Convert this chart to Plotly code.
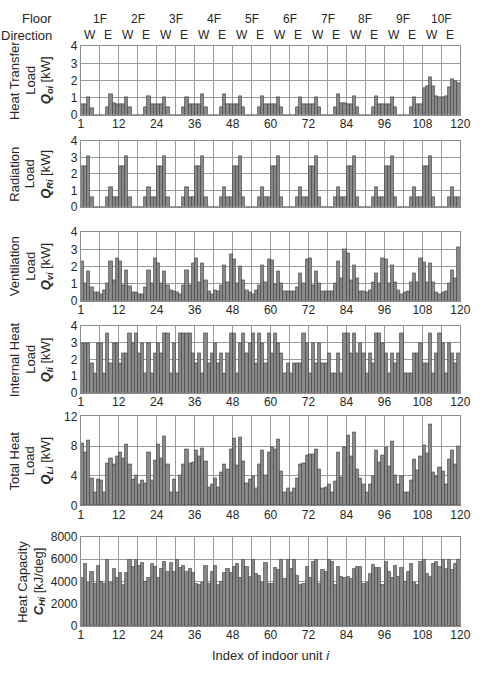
import plotly.graph_objects as go

units = list(range(1, 121))

# Heat transfer load Q_oi [kW] (floors 1F..10F, 12 units per floor)
q_oi = [
    0.6, 0.6, 1.0, 0.4, 0, 0, 0, 0, 0.45, 1.2, 0.7, 0.6,
    0.6, 0.6, 1.0, 0.45, 0, 0, 0, 0, 0.45, 1.1, 0.6, 0.6,
    0.6, 0.6, 1.0, 0.45, 0, 0, 0, 0, 0.45, 1.0, 0.6, 0.6,
    0.6, 0.6, 1.2, 0.45, 0, 0, 0, 0, 0.45, 1.2, 0.6, 0.6,
    0.6, 0.6, 1.1, 0.45, 0, 0, 0, 0, 0.45, 1.1, 0.6, 0.6,
    0.6, 0.6, 1.0, 0.45, 0, 0, 0, 0, 0.45, 1.0, 0.6, 0.6,
    0.6, 0.6, 1.0, 0.45, 0, 0, 0, 0, 0.45, 1.2, 0.7, 0.7,
    0.6, 0.6, 1.1, 0.45, 0, 0, 0, 0, 0.45, 1.1, 0.6, 0.6,
    0.6, 0.6, 1.0, 0.45, 0, 0, 0, 0, 0.45, 1.0, 0.6, 0.6,
    1.55, 1.65, 2.2, 1.65, 1.1, 1.05, 1.05, 1.1, 1.6, 2.05, 1.95, 1.85,
]

# Radiation load Q_Ri [kW]
q_ri = [
    2.5, 2.5, 3.1, 0.6, 0, 0, 0, 0, 0.6, 1.2, 0.6, 0.6,
    2.5, 2.5, 3.1, 0.6, 0, 0, 0, 0, 0.6, 1.2, 0.6, 0.6,
    2.5, 2.5, 3.1, 0.6, 0, 0, 0, 0, 0.6, 1.2, 0.6, 0.6,
    2.5, 2.5, 3.1, 0.6, 0, 0, 0, 0, 0.6, 1.2, 0.6, 0.6,
    2.5, 2.5, 3.1, 0.6, 0, 0, 0, 0, 0.6, 1.2, 0.6, 0.6,
    2.5, 2.5, 3.1, 0.6, 0, 0, 0, 0, 0.6, 1.2, 0.6, 0.6,
    2.5, 2.5, 3.1, 0.6, 0, 0, 0, 0, 0.6, 1.2, 0.6, 0.6,
    2.5, 2.5, 3.1, 0.6, 0, 0, 0, 0, 0.6, 1.2, 0.6, 0.6,
    2.5, 2.5, 3.1, 0.6, 0, 0, 0, 0, 0.6, 1.2, 0.6, 0.6,
    2.5, 2.5, 3.1, 0.6, 0, 0, 0, 0, 0.6, 1.2, 0.6, 0.6,
]

# Ventilation load Q_vi [kW]
q_vi = [
    2.3, 1.0, 1.7, 0.8, 0.5, 0.5, 0.4, 0.6, 1.0, 2.3, 1.2, 2.5,
    2.3, 0.9, 1.8, 0.85, 0.5, 0.5, 0.4, 0.4, 0.8, 1.8, 1.0, 2.5,
    2.2, 1.0, 1.7, 0.9, 0.6, 0.55, 0.5, 0.4, 0.9, 1.8, 0.9, 2.2,
    2.5, 1.1, 2.2, 1.2, 0.55, 0.4, 0.6, 0.55, 0.9, 2.1, 1.1, 2.7,
    2.4, 1.0, 2.0, 1.2, 0.6, 0.5, 0.4, 0.6, 0.9, 2.1, 1.1, 2.4,
    2.35, 0.95, 1.7, 1.05, 0.55, 0.55, 0.55, 0.55, 0.8, 1.6, 1.0, 2.4,
    2.5, 0.9, 1.7, 1.0, 0.55, 0.55, 0.55, 0.55, 1.0, 2.3, 1.3, 3.0,
    2.75, 1.2, 2.1, 1.3, 0.55, 0.55, 0.5, 0.6, 1.1, 1.6, 1.0, 2.5,
    2.4, 1.0, 2.1, 1.1, 0.6, 0.4, 0.5, 0.55, 1.1, 1.6, 1.1, 2.5,
    2.25, 1.1, 2.2, 1.1, 0.5, 0.4, 0.5, 0.55, 1.0, 1.8, 1.3, 3.1,
]

# Internal heat load Q_Ii [kW]
q_li = [
    3.0, 3.0, 3.0, 1.8, 1.2, 3.0, 3.0, 1.2, 3.6, 1.8, 3.0, 3.0,
    1.8, 2.4, 2.4, 3.6, 3.0, 3.6, 2.4, 3.0, 1.2, 3.0, 1.2, 2.4,
    3.0, 2.4, 3.6, 3.6, 1.2, 3.0, 1.2, 3.6, 3.6, 3.6, 3.6, 2.4,
    1.8, 2.4, 1.2, 3.6, 1.8, 2.4, 3.0, 1.8, 2.4, 1.2, 2.4, 3.6,
    3.6, 1.2, 3.0, 3.6, 2.4, 3.0, 3.6, 1.8, 3.6, 3.0, 1.8, 3.6,
    2.4, 3.6, 3.0, 2.4, 1.2, 1.8, 1.2, 1.8, 1.8, 1.8, 3.6, 3.0,
    1.2, 3.0, 1.8, 3.0, 1.8, 1.8, 2.4, 1.2, 1.2, 2.4, 1.2, 3.6,
    3.6, 2.4, 3.6, 2.4, 3.0, 2.4, 1.2, 2.4, 1.8, 3.6, 3.6, 3.0,
    2.4, 1.2, 2.4, 1.8, 2.4, 3.6, 1.2, 1.2, 1.2, 2.4, 2.4, 3.0,
    1.8, 1.8, 3.6, 1.2, 2.4, 3.6, 3.0, 1.2, 3.0, 2.4, 1.8, 2.4,
]

# Total heat load Q_Li [kW]
q_total = [
    8.4, 7.1, 8.8, 3.7, 1.7, 3.5, 3.4, 1.8, 5.7, 6.4, 5.5, 6.6,
    7.2, 6.3, 8.2, 5.6, 3.5, 4.1, 2.9, 3.4, 3.0, 7.1, 3.4, 6.1,
    8.2, 6.4, 9.3, 5.5, 1.8, 3.5, 1.8, 4.0, 5.6, 7.6, 5.7, 5.8,
    7.4, 6.6, 7.7, 5.9, 2.4, 2.8, 3.6, 2.4, 4.4, 5.6, 4.8, 7.6,
    9.0, 5.4, 9.2, 5.9, 3.0, 3.5, 3.9, 2.3, 5.5, 7.4, 4.1, 7.2,
    7.8, 7.6, 8.9, 4.6, 1.7, 2.3, 1.7, 2.3, 3.7, 5.6, 5.7, 6.7,
    6.9, 6.9, 7.6, 4.9, 2.3, 2.4, 2.9, 1.7, 3.3, 7.1, 3.8, 7.8,
    9.4, 6.6, 9.9, 4.8, 3.6, 2.9, 1.7, 2.9, 3.9, 7.4, 5.8, 6.8,
    7.8, 5.3, 8.7, 4.1, 2.9, 3.9, 1.7, 1.7, 3.4, 6.2, 4.7, 6.6,
    8.1, 7.0, 10.9, 4.5, 3.9, 5.1, 4.6, 2.9, 6.2, 7.4, 5.5, 7.9,
]

# Heat capacity C_Hi [kJ/deg]
c_hi = [
    4300, 5600, 3900, 4900, 3800, 5400, 4000, 3800, 5900, 3900, 5100, 4300,
    4800, 3700, 4800, 5900, 5300, 5900, 5400, 5700, 4000, 4300, 5600, 5300,
    4300, 5100, 5800, 4900, 5700, 4900, 5900, 5200, 5400, 4900, 5100, 4800,
    3800, 3700, 3900, 5400, 3800, 4900, 5400, 3700, 4000, 4800, 5100, 4800,
    5300, 5600, 4300, 5900, 5300, 4400, 5900, 4700, 4500, 3900, 5700, 3800,
    3800, 5200, 5000, 5900, 4200, 5900, 5100, 5900, 4500, 3700, 3800, 5300,
    4300, 5800, 5900, 3800, 5000, 4900, 5900, 5800, 3700, 5300, 4400, 4300,
    4400, 4200, 5100, 5300, 5300, 3800, 3900, 4700, 5500, 5200, 5200, 3700,
    5800, 4900, 4300, 5400, 4400, 5200, 4000, 4900, 5600, 3900, 3700, 5800,
    5900, 4700, 4400, 5600, 5800, 5300, 5900, 5100, 5900, 5000, 5600, 5900,
]

floor_labels = ["1F", "2F", "3F", "4F", "5F", "6F", "7F", "8F", "9F", "10F"]
x_tick_text = ["1", "12", "24", "36", "48", "60", "72", "84", "96", "108", "120"]

W, H = 483, 675
X0, X1 = 80, 470
FONT = "Liberation Sans, Arial, sans-serif"
TXT = "#262626"
GRID = "#9a9a9a"


def fx(p):
    return p / W


def fy(p):
    return 1 - p / H


def qsym(s):
    return "<b><i>Q</i></b><sub><b><i>%s</i></b></sub> [kW]" % s


panels = [
    dict(top=40, bot=110, rng=[0, 4], dtick=1, lab=True, data=q_oi,
         title=["Heat Transfer", "Load", qsym("oi")], tx=[12, 28, 45]),
    dict(top=137, bot=204, rng=[0, 4], dtick=1, lab=False, data=q_ri,
         title=["Radiation", "Load", qsym("Ri")], tx=[12, 28, 45]),
    dict(top=230, bot=300, rng=[0, 4], dtick=1, lab=True, data=q_vi,
         title=["Ventilation", "Load", qsym("vi")], tx=[12, 28, 45]),
    dict(top=326, bot=394, rng=[0, 4], dtick=1, lab=True, data=q_li,
         title=["Internal Heat", "Load", qsym("Ii")], tx=[12, 28, 45]),
    dict(top=418, bot=509, rng=[0, 12], dtick=4, lab=True, data=q_total,
         title=["Total Heat", "Load", qsym("Li")], tx=[12, 28, 45]),
    dict(top=541, bot=632, rng=[0, 8000], dtick=2000, lab=True, data=c_hi,
         title=["Heat Capacity",
                "<b><i>C</i></b><sub><b><i>Hi</i></b></sub> [kJ/deg]"],
         tx=[20, 37]),
]

fig = go.Figure()
layout = dict(
    width=W, height=H,
    margin=dict(l=0, r=0, t=0, b=0),
    paper_bgcolor="white", plot_bgcolor="white",
    showlegend=False, bargap=0,
    font=dict(family=FONT, size=12, color=TXT),
)

# labelled ticks every 12 units (at the slot boundaries), extra grid every 6
major_vals = [0.5 + 12 * k for k in range(11)]
minor_vals = [6.5 + 12 * k for k in range(10)]

annotations = []
for i, p in enumerate(panels, start=1):
    xa = "x" if i == 1 else "x%d" % i
    ya = "y" if i == 1 else "y%d" % i
    fig.add_trace(go.Bar(
        x=units, y=p["data"], xaxis=xa, yaxis=ya,
        marker=dict(color="#8a8a8a", line=dict(color="#3d3d3d", width=0.6)),
        width=1.0,
    ))
    key = "" if i == 1 else str(i)
    layout["xaxis" + key] = dict(
        domain=[fx(X0), fx(X1)], anchor=ya, range=[0.5, 120.5],
        tickmode="array", tickvals=major_vals, ticktext=x_tick_text,
        showticklabels=p["lab"], ticks="", showgrid=True,
        gridcolor=GRID, gridwidth=1, zeroline=False,
        minor=dict(tickmode="array", tickvals=minor_vals, showgrid=True,
                   gridcolor=GRID, gridwidth=1, ticks=""),
        showline=True, mirror=True, linecolor="#8c8c8c", linewidth=1,
        tickfont=dict(size=12, color=TXT), fixedrange=True,
        ticklabelstandoff=-2,
    )
    layout["yaxis" + key] = dict(
        domain=[fy(p["bot"]), fy(p["top"])], anchor=xa, range=p["rng"],
        dtick=p["dtick"], tick0=0, showgrid=True, gridcolor=GRID,
        gridwidth=1, zeroline=False, ticks="", showline=True, mirror=True,
        linecolor="#8c8c8c", linewidth=1, tickfont=dict(size=12, color=TXT),
        fixedrange=True,
    )
    yc = (p["top"] + p["bot"]) / 2
    for t, x in zip(p["title"], p["tx"]):
        annotations.append(dict(
            text=t, x=fx(x), y=fy(yc), xref="paper", yref="paper",
            textangle=-90, showarrow=False, xanchor="center",
            yanchor="middle", font=dict(size=13, color=TXT),
        ))

# header rows: Floor / Direction
annotations.append(dict(text="Floor", x=fx(52), y=fy(12), xref="paper",
                        yref="paper", showarrow=False, xanchor="right",
                        yanchor="middle", font=dict(size=13, color=TXT)))
annotations.append(dict(text="Direction", x=fx(52), y=fy(29), xref="paper",
                        yref="paper", showarrow=False, xanchor="right",
                        yanchor="middle", font=dict(size=13, color=TXT)))
scale = (X1 - X0) / 120.0
for k, fl in enumerate(floor_labels):
    cx = X0 + (12 * k + 6) * scale
    annotations.append(dict(text=fl, x=fx(cx), y=fy(12), xref="paper",
                            yref="paper", showarrow=False, xanchor="center",
                            yanchor="middle", font=dict(size=12, color=TXT)))
    for d, off in (("W", 3), ("E", 8.7)):
        annotations.append(dict(text=d, x=fx(X0 + (12 * k + off) * scale),
                                y=fy(29), xref="paper", yref="paper",
                                showarrow=False, xanchor="center",
                                yanchor="middle",
                                font=dict(size=12, color=TXT)))

annotations.append(dict(text="Index of indoor unit <i>i</i>", x=fx(275),
                        y=fy(662), xref="paper", yref="paper",
                        showarrow=False, xanchor="center", yanchor="middle",
                        font=dict(size=13, color=TXT)))

layout["annotations"] = annotations
fig.update_layout(**layout)
fig.write_html("out.html")
